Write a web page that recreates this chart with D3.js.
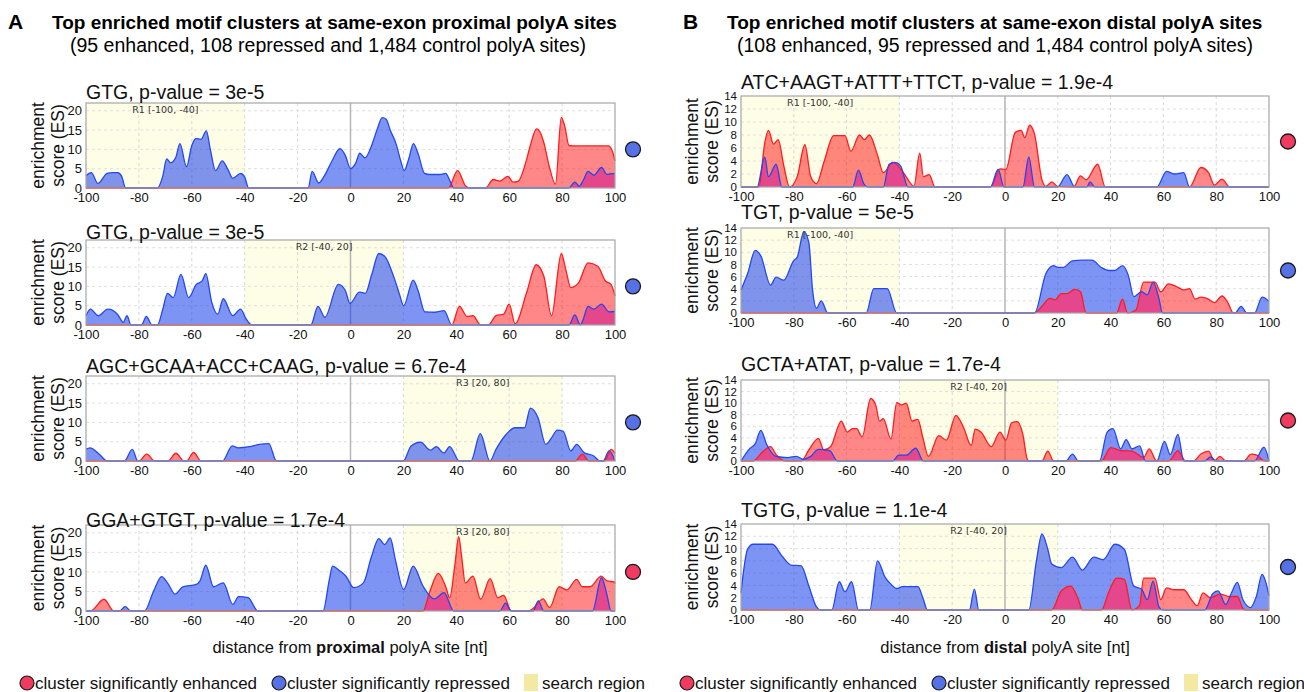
<!DOCTYPE html>
<html>
<head>
<meta charset="utf-8">
<script src="https://cdn.jsdelivr.net/npm/d3@7/dist/d3.min.js"></script>
<style>
body { margin: 0; background: #fff; }
</style>
</head>
<body>
<div id="chart"></div>
<script>
// ---- data: [distance (nt), enrichment score] ----

// panel A, proximal polyA sites
var a1Blue = [[-100,3.2],[-98,4],[-95.5,1.2],[-92,3.8],[-90,4],[-88,4],[-86.5,3],[-85,0],[-73,0],[-71,3],[-69.5,7.5],[-68,6.5],[-66,8],[-64.5,11.5],[-62,5.5],[-60,11],[-58.5,12.8],[-56.5,12.6],[-54.5,14.8],[-53,10],[-51,4.5],[-48.5,7],[-46.5,5],[-44.5,2.5],[-41.5,3.8],[-40,2.8],[-38.5,0],[-16,0],[-14.5,4.3],[-12,1.3],[-10,3],[-7,7],[-4,10.2],[-2,8.5],[0,5],[2,6.5],[3.5,9],[5.5,7.8],[8,11],[10,15],[12,18.2],[13.5,17.8],[15,15],[17.3,11.3],[19,7],[20.3,4.5],[22,7.5],[23.8,11.5],[25.5,9],[28,3.8],[30,3.5],[34,3.5],[36,3.8],[37.5,2],[39,0],[82.5,0],[84.8,1.5],[86.5,0.5],[88,2],[89.8,4.3],[92,3.3],[94.9,5.3],[97,3.5],[98.5,3.7],[100,3.7]];
var a1Red = [[-100,0],[37,0],[40.5,4.5],[43.5,0.5],[45,0],[51,0],[54,2.2],[56.5,1.8],[59.5,3],[61.5,1.5],[63.5,1.8],[66,6],[68,11],[70.3,15.3],[72,14],[73.2,11.5],[75,6],[77.5,1],[79.7,18.3],[81,16],[82.6,11],[84,10.9],[97.5,10.9],[99,9.5],[100,7]];

var a2Blue = [[-100,2.4],[-98.3,4.1],[-95.4,2.4],[-91.7,4.1],[-88.1,2.8],[-85.9,0.7],[-84.5,2.4],[-83,0],[-79,0],[-77.2,2.2],[-75,0],[-73,0],[-71,4],[-69.2,8.2],[-67,7.1],[-64.1,13.1],[-61.2,7.1],[-58.3,10.5],[-56.1,11.4],[-54.7,13.3],[-52.5,6],[-50.2,2.8],[-48.1,6.8],[-44.5,2.4],[-41.6,4.1],[-39.4,1.5],[-37.3,0],[-15,0],[-12.3,4.8],[-9.7,2],[-4.6,10.5],[-2,9],[-0.2,5.6],[3.4,8.5],[5.6,8.2],[8,13],[10.7,18.5],[12.9,17.8],[16.5,12.2],[18.5,8],[20.1,5],[23.7,11.6],[25.5,9],[28.1,3.4],[32,3.3],[35.4,3.7],[38.3,0],[82.6,0],[84.8,2.6],[86.9,0],[88,1.5],[89.8,4.8],[92,4.1],[94.9,5.4],[97.8,3.4],[100,3.5]];
var a2Red = [[-100,0],[38.3,0],[41.2,4.8],[44.1,2.2],[46.3,2.4],[49.2,0],[52.1,0],[55,2.4],[57.9,2.8],[60,5.4],[62.2,0.3],[66.6,8.4],[70.2,15.6],[73.1,12.6],[76,2.4],[79.7,18.5],[81.5,14],[83.3,9.7],[86.2,10.9],[89.8,16.1],[93.5,15.2],[96.4,11.4],[98.5,10.5],[100,7.5]];

var a3Blue = [[-100,3],[-98.5,3.4],[-94.9,1.7],[-92,0],[-85.5,0],[-82.5,3],[-80.4,0],[-48.4,0],[-44.7,3.9],[-42.5,3.4],[-38.2,3.7],[-34.5,4.3],[-30.9,4.5],[-28,0],[20,0],[22.9,3.9],[26.5,4.9],[30.2,2.8],[32.4,3.7],[35.3,2.1],[37.5,3.7],[41.1,0],[45.5,0],[49.1,7.1],[52.7,0],[55,3],[58.5,6.6],[62.2,8.6],[65.8,8.6],[68,13.7],[70.9,11.2],[73.8,4.3],[76,6],[78.2,8],[80.4,7.7],[83.3,2.6],[85.5,4.3],[88.4,2.1],[92,1.3],[94.2,0],[95.5,0],[97.8,2.6],[100,0]];
var a3Red = [[-100,0],[-80,0],[-77,1.8],[-74,0],[-69,0],[-66,2],[-63,0],[-62,0],[-59.3,2.2],[-56.5,0],[85,0],[87.6,1.8],[90.2,0],[96,0],[98.5,3],[100,2]];

var a4Blue = [[-100,0],[-87.4,0],[-85.2,1.1],[-83,0],[-77.9,0],[-74.5,5],[-71.4,8.8],[-69,7],[-66.3,4.3],[-63.4,6.2],[-58.3,6.8],[-56.9,7.7],[-54.7,11.7],[-51.8,6.2],[-48.1,7.2],[-44.5,1.7],[-42.3,3.7],[-38.7,3.4],[-35,0],[-10.4,0],[-8,8],[-6.8,11.5],[-4.6,10.6],[-1.7,8.9],[1.2,6],[4.9,7.2],[7.8,13.6],[10.7,18.5],[12.9,17],[15,18.7],[17,13],[20.1,5.5],[23.7,11.5],[27.4,6.4],[31.7,3.1],[35.4,4.7],[39,0],[56.5,0],[58.6,2],[60.8,0],[69,0],[71,2.6],[73.1,0],[91.5,0],[94.9,8.5],[97,4],[98.5,0],[100,0]];
var a4Red = [[-100,0],[-98.3,0],[-93.2,3],[-89.5,0],[27.4,0],[30,5],[33.2,9.6],[36.1,6],[37.5,3.4],[39.5,12],[40.9,19],[42,14],[43.4,7.2],[46.3,8.9],[49.2,3],[52.8,8.3],[55.7,3.4],[57.9,4],[60.8,0],[67.3,0],[68.8,0.5],[72.8,3.1],[75.3,0.9],[78.9,6.2],[81.8,5.4],[85.5,8.1],[87.6,6.2],[90.6,6.2],[94.8,8.9],[97,7.7],[99.9,7.4],[100,7]];

// panel B, distal polyA sites
var b1Blue = [[-100,0],[-93.9,0],[-91,4.6],[-89.6,1.6],[-86.7,3.5],[-84.5,0],[-57.7,0],[-55.5,2.6],[-53.5,0.5],[-51.9,0],[-46.1,0],[-43.9,3.5],[-41.7,3.8],[-39.6,3.3],[-36.7,0],[-5.5,0],[-2.6,2.7],[-0.4,0],[6.8,0],[9,4.6],[11.2,0],[19.9,0],[23.5,1.9],[26.4,0],[31,0],[32.2,0.8],[34,0],[57.5,0],[61.2,2.4],[64.1,2],[67.7,2.2],[69.9,0],[100,0]];
var b1Red = [[-100,0],[-93.2,0],[-91,6.8],[-89.6,8.7],[-87.7,6.6],[-85.9,7.3],[-83.8,3.3],[-81.6,0],[-78.7,1.6],[-75.8,6.5],[-73.6,1.6],[-71.4,0.5],[-68.6,3.8],[-64.9,7.9],[-60.6,7.9],[-58.4,5.5],[-55.1,8],[-53.3,7.3],[-51.4,8],[-48.3,4.9],[-46.1,2.2],[-42.5,3.8],[-38.8,2.4],[-36.7,1.1],[-34.5,0.1],[-32.3,5.2],[-30.9,1.6],[-28.7,1.9],[-26.5,0],[-5.5,0],[-1.9,2.8],[0.3,2.7],[3.9,8.4],[6.1,8.7],[7.5,7.6],[9.3,9.5],[11.2,8.1],[14,1.1],[15.5,0.1],[17.7,0.8],[19.9,0.1],[26,0],[28.6,1.7],[30.7,1.1],[35.1,3.5],[38,0],[69.9,0],[74.2,3],[77.1,2.2],[79.3,0.3],[82.2,1.2],[85.1,0],[100,0]];

var b2Blue = [[-100,3.8],[-97.5,6.5],[-94.6,10.3],[-92.5,9.4],[-88.8,4.6],[-86.7,5.9],[-83.8,5.4],[-80.1,8.6],[-78.7,9.2],[-76.2,13.4],[-74.3,11.6],[-72.9,3.8],[-71.4,0.8],[-69.6,2],[-67.1,0],[-52.6,0],[-49.7,4],[-44.6,4],[-41,0],[11.2,0],[15.5,6.5],[18.4,7.8],[20,7.5],[22,7.5],[25.6,8.6],[29.3,8.7],[32.9,8.7],[36.5,7.5],[39.4,7],[41.6,7],[44.5,7.8],[46.7,6.2],[48.8,2.7],[51.7,3.5],[53.9,3],[56.1,5.1],[58.3,2.4],[59.7,0],[87.2,0],[89.4,1.1],[91.6,0],[94.5,0],[97.4,2.6],[100,1.9]];
var b2Red = [[-100,0],[11.2,0],[14,1.1],[16.9,2.4],[19.1,2.2],[21.3,3.2],[23.5,3.2],[26.4,3.9],[28.6,3.5],[30.7,0],[42.3,0],[44.5,2.3],[46.4,0],[49.6,0.5],[52.5,5.1],[56.8,5.1],[59,3.5],[61.9,4.8],[64.8,4.4],[67.7,3.8],[69.9,4],[72,2.3],[74.2,2.6],[77.1,2.3],[79.3,1.7],[82.2,2.8],[84.3,1.8],[86.5,0],[100,0]];

var b3Blue = [[-100,0],[-96.8,2.1],[-94.6,3],[-92.5,5.3],[-90.3,2.9],[-86.7,0.8],[-82.3,0.6],[-79,0.8],[-76.5,0.3],[-73.6,0.8],[-70.7,2],[-66.4,1.8],[-63.5,0],[-42.5,0],[-40.3,1],[-37.4,1],[-33.8,2.2],[-30.9,0],[23,0],[25.6,1.2],[27.8,0],[35.8,0],[38.7,5],[40.9,5.6],[43.8,2.1],[45.9,3.7],[48.1,2.1],[51,2.6],[53.2,0],[57.5,0],[60.4,3.4],[62.6,1.1],[65.5,4.6],[67.7,0],[75.7,0],[77.8,0.7],[80,0],[94.5,0],[98.1,2.4],[100,0]];
var b3Red = [[-100,0],[-95.4,0],[-92,1.5],[-88.8,2.5],[-86.7,1.1],[-83,0],[-77.2,0],[-74.3,1.9],[-70.7,3.9],[-68.6,1.9],[-66,2.5],[-62,6.9],[-59.8,5],[-57.7,5.6],[-56.2,5.6],[-54.1,4.2],[-50.9,10.8],[-49,9.7],[-47.5,6.9],[-46.1,7.3],[-43.2,3.8],[-41,10.1],[-39.1,9.7],[-37.4,10],[-35.2,6.9],[-33,7.2],[-31.2,4.2],[-29,0.8],[-25.1,4.4],[-22.2,3.6],[-18.6,7.9],[-15.7,5.8],[-12.8,2.7],[-11.3,5.5],[-9.1,5],[-5.2,2.5],[-1.9,5],[0.3,3.6],[2.5,6.6],[4.6,6.8],[6.8,4.5],[8.3,0.5],[9,0],[14,0],[16.2,1.7],[18.4,0],[36.5,0],[40.1,2.3],[43.8,1.8],[48.1,1.7],[52.5,0.6],[54.6,2.1],[57.5,0],[62,0],[65.5,1.8],[68.4,0],[71.3,0],[74.2,1.2],[77.1,1.7],[79.3,0],[81.4,0.8],[83.6,0],[90.4,0],[93.3,1.2],[95.4,1],[98.3,0],[100,0]];

var b4Blue = [[-100,2.8],[-97.5,9.9],[-95.4,10.7],[-88.1,10.7],[-84.5,8.8],[-80.9,7.3],[-77.2,7.2],[-74.3,3.9],[-71.4,0.5],[-70,0],[-65.6,0],[-62.8,4.6],[-60.6,3],[-58.1,4.6],[-55.5,0],[-51.2,0],[-48.3,8],[-45.4,5.3],[-43.2,4.2],[-41,3.5],[-38.8,3.8],[-33,3.8],[-30.9,1.7],[-29.4,0],[-13.5,0],[-11.6,3.4],[-9.9,0],[9,0],[11.9,8],[14,12.4],[16.2,9.9],[17.7,7.5],[21.3,6.9],[25.6,8.6],[29.3,6.5],[33.6,8.6],[37.2,8.2],[41.6,10.7],[45.2,9.9],[48.8,3.9],[51.7,3.4],[53.9,1.7],[56.1,4.7],[58.3,0.5],[59.7,0],[75.7,0],[78.6,2.6],[80.7,3.1],[83.6,0.9],[85.8,2.8],[88,4.5],[90.1,1.7],[93,0.4],[95.2,2.2],[97.4,5.8],[98.8,4.5],[100,2.3]];
var b4Red = [[-100,0],[17.7,0],[21.3,3.1],[24.9,3.9],[27.8,1.7],[29.3,0],[36.5,0],[39.4,3],[42.3,5.2],[45.2,5],[48.1,0],[51,0.8],[52.5,5.2],[56.8,5.2],[59,1.7],[61.2,3.6],[64.1,3.3],[67.7,3.3],[70.6,1.7],[72.8,0.7],[75,2.8],[77.8,2],[81.4,2.6],[85.1,2.2],[88,2.2],[90.1,0.3],[90.8,0],[100,0]];

// motif titles, search regions and which group was significant
var titlesA = ['GTG, p-value = 3e-5', 'GTG, p-value = 3e-5', 'AGC+GCAA+ACC+CAAG, p-value = 6.7e-4', 'GGA+GTGT, p-value = 1.7e-4'];
var titlesB = ['ATC+AAGT+ATTT+TTCT, p-value = 1.9e-4', 'TGT, p-value = 5e-5', 'GCTA+ATAT, p-value = 1.7e-4', 'TGTG, p-value = 1.1e-4'];
var regionsA = [['R1', -100, -40], ['R2', -40, 20], ['R3', 20, 80], ['R3', 20, 80]];
var regionsB = [['R1', -100, -40], ['R1', -100, -40], ['R2', -40, 20], ['R2', -40, 20]];
var markersA = ['repressed', 'repressed', 'repressed', 'enhanced'];
var markersB = ['enhanced', 'repressed', 'enhanced', 'repressed'];

var xTicks = [-100, -80, -60, -40, -20, 0, 20, 40, 60, 80, 100];
var yTicksA = [0, 5, 10, 15, 20];
var yTicksB = [0, 2, 4, 6, 8, 10, 12, 14];

// ---- styling / layout ----
var fullWidth = 1304;
var fullHeight = 692;
var mainFont = '"Liberation Sans", Arial, Helvetica, sans-serif';
var blueFill = 'rgba(20,60,235,0.55)';
var blueLine = '#2448f0';
var redFill = 'rgba(255,0,0,0.47)';
var redLine = '#ff1c1c';
var overlapFill = '#e4478b';
var markerColor = { enhanced: '#f03a5f', repressed: '#5670e6' };
var regionColor = '#fefde6';
var plotCount = 0;

window.onload = function() {
    render();
};

function render() {
    var svg = d3.select('#chart').append('svg')
        .attr('width', fullWidth)
        .attr('height', fullHeight)
        .style('display', 'block')
        .style('background', '#fff');

    var seriesA = [[a1Blue, a1Red], [a2Blue, a2Red], [a3Blue, a3Red], [a4Blue, a4Red]];
    var seriesB = [[b1Blue, b1Red], [b2Blue, b2Red], [b3Blue, b3Red], [b4Blue, b4Red]];

    // panel A
    makeHeader(svg, 8, 52, 70, 'A', 'proximal', '(95 enhanced, 108 repressed and 1,484 control polyA sites)');
    var boxesA = [[103, 188, 92], [240, 325, 232], [376, 461, 366], [525, 611, 520]];
    for (var i = 0; i < 4; i++) {
        makePlot(svg, {
            x0: 86, x1: 615, top: boxesA[i][0], bottom: boxesA[i][1], titleY: boxesA[i][2],
            yMax: 22, yTicks: yTicksA, yFont: 13, markerAt: 10, markerX: 633, labelX: 38,
            title: titlesA[i], region: regionsA[i], blue: seriesA[i][0], red: seriesA[i][1],
            marker: markersA[i]
        });
    }
    makeXLabel(svg, 350, 'proximal');
    makeLegend(svg, 27);

    // panel B
    makeHeader(svg, 683, 727, 737, 'B', 'distal', '(108 enhanced, 95 repressed and 1,484 control polyA sites)');
    var boxesB = [[96, 187, 82], [228, 313, 212], [380, 461, 364], [524, 610, 510]];
    for (var j = 0; j < 4; j++) {
        makePlot(svg, {
            x0: 741, x1: 1269, top: boxesB[j][0], bottom: boxesB[j][1], titleY: boxesB[j][2],
            yMax: 14, yTicks: yTicksB, yFont: 11.5, markerAt: 7, markerX: 1288, labelX: 692,
            title: titlesB[j], region: regionsB[j], blue: seriesB[j][0], red: seriesB[j][1],
            marker: markersB[j]
        });
    }
    makeXLabel(svg, 1005, 'distal');
    makeLegend(svg, 687);
}

function makeHeader(svg, letterX, titleX, subX, letter, site, subtitle) {
    svg.append('text')
        .attr('x', letterX).attr('y', 29)
        .style('font-family', mainFont).style('font-size', '21px').style('font-weight', 'bold')
        .text(letter);
    svg.append('text')
        .attr('x', titleX).attr('y', 29)
        .style('font-family', mainFont).style('font-size', '19px').style('font-weight', 'bold')
        .text('Top enriched motif clusters at same-exon ' + site + ' polyA sites');
    svg.append('text')
        .attr('x', subX).attr('y', 52)
        .style('font-family', mainFont).style('font-size', '19.5px')
        .text(subtitle);
}

function makePlot(svg, p) {
    plotCount += 1;
    var clipId = 'blue-clip-' + plotCount;
    var x = d3.scaleLinear().domain([-100, 100]).range([p.x0, p.x1]);
    var y = d3.scaleLinear().domain([0, p.yMax]).range([p.bottom, p.top]);
    var g = svg.append('g');

    // search region
    g.append('rect')
        .attr('x', x(p.region[1])).attr('y', p.top)
        .attr('width', x(p.region[2]) - x(p.region[1]))
        .attr('height', p.bottom - p.top)
        .style('fill', regionColor);

    // dashed grid
    xTicks.slice(1, -1).forEach(function(t) {
        if (t === 0) return;
        g.append('line')
            .attr('x1', x(t)).attr('x2', x(t)).attr('y1', p.top).attr('y2', p.bottom)
            .attr('stroke', '#d8d8d8').attr('stroke-width', 1).attr('stroke-dasharray', '3 3');
    });
    p.yTicks.forEach(function(t) {
        if (t === 0 || t === p.yMax) return;
        g.append('line')
            .attr('x1', p.x0).attr('x2', p.x1).attr('y1', y(t)).attr('y2', y(t))
            .attr('stroke', '#e0e0e0').attr('stroke-width', 1).attr('stroke-dasharray', '3 3');
    });

    // polyA site
    g.append('line')
        .attr('x1', x(0)).attr('x2', x(0)).attr('y1', p.top).attr('y2', p.bottom)
        .attr('stroke', '#b4b4b4').attr('stroke-width', 1.5);

    var area = d3.area()
        .x(function(d) { return x(d[0]); })
        .y0(p.bottom)
        .y1(function(d) { return y(d[1]); })
        .curve(d3.curveMonotoneX);
    var line = d3.line()
        .x(function(d) { return x(d[0]); })
        .y(function(d) { return y(d[1]); })
        .curve(d3.curveMonotoneX);

    // blue area used as clip for the overlap colour
    svg.append('clipPath').attr('id', clipId)
        .append('path').attr('d', area(p.blue));

    g.append('path').attr('d', area(p.blue)).style('fill', blueFill);
    g.append('path').attr('d', area(p.red)).style('fill', redFill);
    g.append('path').attr('d', area(p.red)).attr('clip-path', 'url(#' + clipId + ')')
        .style('fill', overlapFill);
    g.append('path').attr('d', line(p.red)).style('fill', 'none')
        .style('stroke', redLine).style('stroke-width', 1.3);
    g.append('path').attr('d', line(p.blue)).style('fill', 'none')
        .style('stroke', blueLine).style('stroke-width', 1.3);

    // frame
    g.append('rect')
        .attr('x', p.x0).attr('y', p.top)
        .attr('width', p.x1 - p.x0).attr('height', p.bottom - p.top)
        .style('fill', 'none').style('stroke', '#a6a6a6').style('stroke-width', 1.2);

    // region label
    g.append('text')
        .attr('x', x((p.region[1] + p.region[2]) / 2)).attr('y', p.top + 10)
        .style('text-anchor', 'middle')
        .style('font-family', '"DejaVu Sans", sans-serif').style('font-size', '9.5px').style('fill', '#333')
        .text(p.region[0] + ' [' + p.region[1] + ', ' + p.region[2] + ']');

    // axes
    var xAxis = g.append('g')
        .attr('transform', 'translate(0,' + p.bottom + ')')
        .call(d3.axisBottom(x).tickValues(xTicks).tickSize(0).tickPadding(5).tickFormat(function(d) { return String(d); }));
    var yAxis = g.append('g')
        .attr('transform', 'translate(' + p.x0 + ',0)')
        .call(d3.axisLeft(y).tickValues(p.yTicks).tickSize(0).tickPadding(4).tickFormat(function(d) { return String(d); }));
    xAxis.select('.domain').remove();
    yAxis.select('.domain').remove();
    xAxis.selectAll('text')
        .style('font-family', mainFont).style('font-size', '13px').style('fill', '#111');
    yAxis.selectAll('text')
        .style('font-family', mainFont).style('font-size', p.yFont + 'px').style('fill', '#111');

    // title
    g.append('text')
        .attr('x', p.x0).attr('y', p.titleY + 7)
        .style('font-family', mainFont).style('font-size', '19.5px').style('fill', '#111')
        .text(p.title);

    // y label
    var midY = (p.top + p.bottom) / 2;
    ['enrichment', 'score (ES)'].forEach(function(s, k) {
        g.append('text')
            .attr('transform', 'translate(' + (p.labelX + k * 20 + 6) + ',' + midY + ') rotate(-90)')
            .style('text-anchor', 'middle')
            .style('font-family', mainFont).style('font-size', '17.5px').style('fill', '#111')
            .text(s);
    });

    // significance marker
    g.append('circle')
        .attr('cx', p.markerX).attr('cy', y(p.markerAt)).attr('r', 7.5)
        .style('fill', markerColor[p.marker]).style('stroke', '#1a1a1a').style('stroke-width', 1.3);
}

function makeXLabel(svg, cx, site) {
    var t = svg.append('text')
        .attr('x', cx).attr('y', 653)
        .style('text-anchor', 'middle')
        .style('font-family', mainFont).style('font-size', '16.5px').style('fill', '#111');
    t.append('tspan').text('distance from ');
    t.append('tspan').style('font-weight', 'bold').text(site);
    t.append('tspan').text(' polyA site [nt]');
}

function makeLegend(svg, x) {
    var y = 683;
    var font = function(sel) {
        return sel.style('font-family', mainFont).style('font-size', '17px').style('fill', '#111');
    };
    svg.append('circle').attr('cx', x).attr('cy', y).attr('r', 7)
        .style('fill', markerColor.enhanced).style('stroke', '#1a1a1a').style('stroke-width', 1.2);
    font(svg.append('text').attr('x', x + 8).attr('y', y + 6)).text('cluster significantly enhanced');
    svg.append('circle').attr('cx', x + 252).attr('cy', y).attr('r', 7)
        .style('fill', markerColor.repressed).style('stroke', '#1a1a1a').style('stroke-width', 1.2);
    font(svg.append('text').attr('x', x + 260).attr('y', y + 6)).text('cluster significantly repressed');
    svg.append('rect').attr('x', x + 497).attr('y', y - 9).attr('width', 14).attr('height', 17)
        .style('fill', '#f3e9a2');
    font(svg.append('text').attr('x', x + 515).attr('y', y + 6)).text('search region');
}
</script>
</body>
</html>
